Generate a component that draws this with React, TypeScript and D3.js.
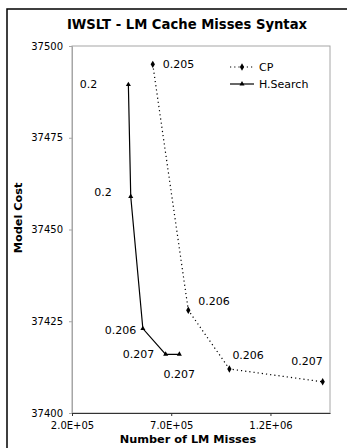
import React, { useEffect, useRef } from 'react';
import * as d3 from 'd3';

// CP series (dotted line, diamonds)
const cpMisses = [607000, 786000, 993000, 1463000];
const cpCost = [37495, 37428, 37412, 37408.5];
const cpLabels = ['0.205', '0.206', '0.206', '0.207'];

// H.Search series (solid line, triangles)
const hsMisses = [484000, 496000, 557000, 672000, 741000];
const hsCost = [37489.5, 37459, 37423, 37416, 37416];
const hsLabels = ['0.2', '0.2', '0.206', '0.207', '0.207'];

const xTickValues = [200000, 700000, 1200000];
const xTickLabels = ['2.0E+05', '7.0E+05', '1.2E+06'];
const yTickValues = [37400, 37425, 37450, 37475, 37500];
const yTickLabels = ['37400', '37425', '37450', '37475', '37500'];

// where each data label sits relative to its point
const cpLabelPos = [
  { anchor: 'start', dx: 10, dy: 0 },
  { anchor: 'start', dx: 10, dy: -9 },
  { anchor: 'start', dx: 3, dy: -13.5 },
  { anchor: 'end', dx: 0, dy: -20.5 },
];
const hsLabelPos = [
  { anchor: 'end', dx: -31, dy: 0 },
  { anchor: 'end', dx: -19, dy: -4.5 },
  { anchor: 'end', dx: -6.5, dy: 1 },
  { anchor: 'end', dx: -11.5, dy: 0 },
  { anchor: 'middle', dx: 0, dy: 20 },
];

const FONT = '"DejaVu Sans", Verdana, sans-serif';

export default function App() {
  const ref = useRef<SVGSVGElement>(null);

  useEffect(() => {
    const width = 347, height = 448;
    const margin = { top: 46, right: 17, bottom: 35, left: 72 };
    const svg = d3.select(ref.current);
    svg.selectAll('*').remove();

    const x = d3.scaleLinear()
      .domain([200000, 1500000])
      .range([margin.left, width - margin.right]);
    const y = d3.scaleLinear()
      .domain([37400, 37500])
      .range([height - margin.bottom, margin.top]);

    // outer chart frame (cut off at right and bottom)
    svg.append('rect')
      .attr('x', 7).attr('y', 9)
      .attr('width', 400).attr('height', 500)
      .attr('fill', '#fff')
      .attr('stroke', '#000')
      .attr('stroke-width', 1.5);

    // plot area border
    svg.append('rect')
      .attr('x', margin.left).attr('y', margin.top)
      .attr('width', width - margin.right - margin.left)
      .attr('height', height - margin.bottom - margin.top)
      .attr('fill', 'none')
      .attr('stroke', '#a6a6a6')
      .attr('stroke-width', 1);

    // y axis
    const yAxis = svg.append('g')
      .attr('transform', `translate(${margin.left},0)`)
      .call(d3.axisLeft(y)
        .tickValues(yTickValues)
        .tickFormat((d, i) => yTickLabels[i])
        .tickSize(3)
        .tickPadding(6));
    yAxis.select('.domain').attr('stroke', '#a6a6a6');
    yAxis.selectAll('.tick line').attr('stroke', '#a6a6a6');
    yAxis.selectAll('.tick text')
      .attr('font-family', FONT).attr('font-size', 10).attr('fill', '#000');

    // x axis
    const xAxis = svg.append('g')
      .attr('transform', `translate(0,${height - margin.bottom})`)
      .call(d3.axisBottom(x)
        .tickValues(xTickValues)
        .tickFormat((d, i) => xTickLabels[i])
        .tickSizeInner(3)
        .tickSizeOuter(0)
        .tickPadding(6));
    xAxis.select('.domain').attr('stroke', '#333').attr('stroke-width', 1.2);
    xAxis.selectAll('.tick line').attr('stroke', '#333');
    xAxis.selectAll('.tick text')
      .attr('font-family', FONT).attr('font-size', 10).attr('fill', '#000');

    // titles
    svg.append('text')
      .attr('x', 187).attr('y', 29)
      .attr('text-anchor', 'middle')
      .attr('font-family', FONT).attr('font-weight', 'bold').attr('font-size', 13.2)
      .text('IWSLT - LM Cache Misses Syntax');
    svg.append('text')
      .attr('x', 188).attr('y', 443)
      .attr('text-anchor', 'middle')
      .attr('font-family', FONT).attr('font-weight', 'bold').attr('font-size', 11.3)
      .text('Number of LM Misses');
    svg.append('text')
      .attr('transform', 'translate(22,218) rotate(-90)')
      .attr('text-anchor', 'middle')
      .attr('font-family', FONT).attr('font-weight', 'bold').attr('font-size', 11.3)
      .text('Model Cost');

    const cpData = cpMisses.map((m, i) => ({ m, c: cpCost[i], label: cpLabels[i], pos: cpLabelPos[i] }));
    const hsData = hsMisses.map((m, i) => ({ m, c: hsCost[i], label: hsLabels[i], pos: hsLabelPos[i] }));

    const line = d3.line<{ m: number; c: number }>()
      .x(d => x(d.m))
      .y(d => y(d.c));

    svg.append('path')
      .datum(cpData)
      .attr('d', line)
      .attr('fill', 'none')
      .attr('stroke', '#000')
      .attr('stroke-width', 1.2)
      .attr('stroke-dasharray', '1.2,3');
    svg.append('path')
      .datum(hsData)
      .attr('d', line)
      .attr('fill', 'none')
      .attr('stroke', '#000')
      .attr('stroke-width', 1.2);

    const diamond = d3.symbol().type(d3.symbolDiamond).size(16);
    const triangle = d3.symbol().type(d3.symbolTriangle).size(11);

    svg.append('g').selectAll('path').data(cpData).enter().append('path')
      .attr('transform', d => `translate(${x(d.m)},${y(d.c)})`)
      .attr('d', diamond)
      .attr('fill', '#000');
    svg.append('g').selectAll('path').data(hsData).enter().append('path')
      .attr('transform', d => `translate(${x(d.m)},${y(d.c)})`)
      .attr('d', triangle)
      .attr('fill', '#000');

    // data labels
    svg.append('g').selectAll('text').data([...cpData, ...hsData]).enter().append('text')
      .attr('x', d => x(d.m) + d.pos.dx)
      .attr('y', d => y(d.c) + d.pos.dy)
      .attr('dy', '0.36em')
      .attr('text-anchor', d => d.pos.anchor)
      .attr('font-family', FONT).attr('font-size', 11)
      .text(d => d.label);

    // legend
    const legend = svg.append('g');
    const legendRows = [
      { name: 'CP', dash: '1.2,3', symbol: diamond, y: 67 },
      { name: 'H.Search', dash: null, symbol: triangle, y: 84 },
    ];
    legendRows.forEach(r => {
      legend.append('line')
        .attr('x1', 230).attr('x2', 254)
        .attr('y1', r.y).attr('y2', r.y)
        .attr('stroke', '#000').attr('stroke-width', 1.2)
        .attr('stroke-dasharray', r.dash);
      legend.append('path')
        .attr('transform', `translate(242,${r.y})`)
        .attr('d', r.symbol)
        .attr('fill', '#000');
      legend.append('text')
        .attr('x', 259).attr('y', r.y)
        .attr('dy', '0.36em')
        .attr('font-family', FONT).attr('font-size', 11)
        .text(r.name);
    });
  }, []);

  return (
    <svg
      ref={ref}
      width={347}
      height={448}
      style={{ position: 'absolute', left: 0, top: 0, background: '#fff' }}
    />
  );
}
